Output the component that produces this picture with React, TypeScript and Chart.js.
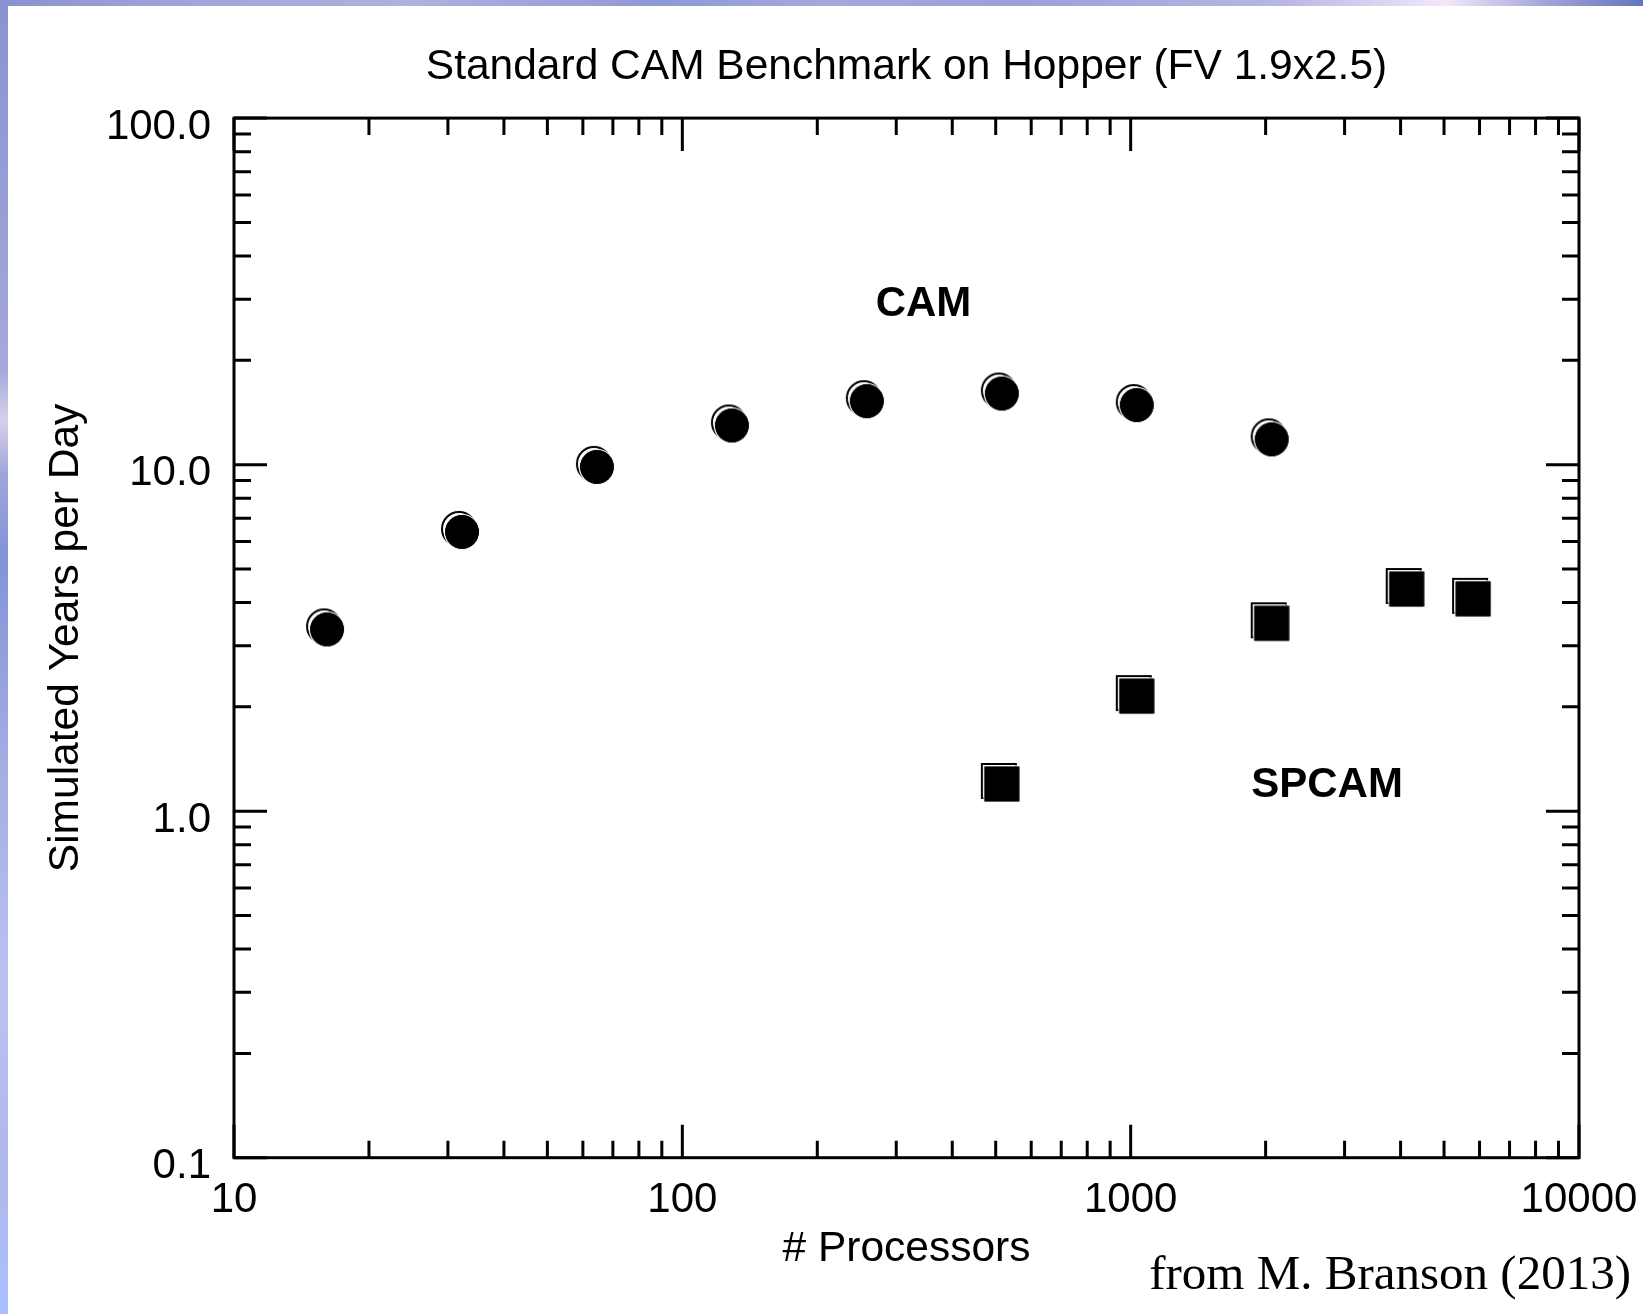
import React, { useEffect, useRef } from "react";
import { Chart, registerables } from "chart.js";

Chart.register(...registerables);

// ---------- data ----------
const chartTitle = "Standard CAM Benchmark on Hopper (FV 1.9x2.5)";
const xAxisTitle = "# Processors";
const yAxisTitle = "Simulated Years per Day";
const sourceNote = "from M. Branson (2013)";

const camProcessors = [16, 32, 64, 128, 256, 512, 1024, 2048];
const camYearsPerDay = [3.38, 6.46, 9.95, 13.1, 15.4, 16.2, 15.0, 11.95];

const spcamProcessors = [512, 1024, 2048, 4096, 5760];
const spcamYearsPerDay = [1.21, 2.17, 3.52, 4.42, 4.14];

const xTickValues = [10, 100, 1000, 10000];
const xTickLabels = ["10", "100", "1000", "10000"];
const yTickValues = [0.1, 1, 10, 100];
const yTickLabels = ["0.1", "1.0", "10.0", "100.0"];

const seriesLabels = ["CAM", "SPCAM"];
const seriesLabelX = [345, 2742];
const seriesLabelY = [29.7, 1.211];

// ---------- styling ----------
const W = 1643;
const H = 1314;
const SANS = "'Liberation Sans', Arial, Helvetica, sans-serif";
const SERIF = "'Liberation Serif', 'Times New Roman', Times, serif";

function makeCircleMarker(): HTMLCanvasElement {
  const r = 18;
  const off = 3;
  const pad = 2;
  const size = Math.ceil(2 * r + off + 2 * pad);
  const c = document.createElement("canvas");
  c.width = size;
  c.height = size;
  const g = c.getContext("2d")!;
  const ax = pad + r;
  const ay = pad + r;
  g.strokeStyle = "#000";
  g.lineWidth = 2;
  g.beginPath();
  g.arc(ax, ay, r - 1, 0, Math.PI * 2);
  g.stroke();
  g.beginPath();
  g.arc(ax + off, ay + off, r - 0.5, 0, Math.PI * 2);
  g.fillStyle = "#000";
  g.fill();
  g.strokeStyle = "#fff";
  g.lineWidth = 1.2;
  g.stroke();
  g.beginPath();
  g.arc(ax + off, ay + off, r - 1.2, 0, Math.PI * 2);
  g.fill();
  return c;
}

function makeSquareMarker(): HTMLCanvasElement {
  const s = 36;
  const off = 3;
  const pad = 2;
  const size = Math.ceil(s + off + 2 * pad);
  const c = document.createElement("canvas");
  c.width = size;
  c.height = size;
  const g = c.getContext("2d")!;
  g.strokeStyle = "#000";
  g.lineWidth = 2;
  g.strokeRect(pad + 1, pad + 1, s - 2, s - 2);
  g.fillStyle = "#000";
  g.fillRect(pad + off, pad + off, s, s);
  g.strokeStyle = "#fff";
  g.lineWidth = 1.2;
  g.strokeRect(pad + off, pad + off, s, s);
  g.fillRect(pad + off + 0.6, pad + off + 0.6, s - 1.2, s - 1.2);
  return c;
}

const framePlugin = {
  id: "slideFrame",
  beforeDraw(chart: any) {
    const ctx = chart.ctx as CanvasRenderingContext2D;
    ctx.save();
    ctx.fillStyle = "#ffffff";
    ctx.fillRect(0, 0, W, H);
    const gt = ctx.createLinearGradient(0, 0, W, 0);
    gt.addColorStop(0, "#8a92d0");
    gt.addColorStop(0.12, "#a0a6da");
    gt.addColorStop(0.25, "#b0b0e0");
    gt.addColorStop(0.4, "#8f98d6");
    gt.addColorStop(0.5, "#a2aadc");
    gt.addColorStop(0.62, "#9aa0da");
    gt.addColorStop(0.78, "#b8b6e4");
    gt.addColorStop(0.88, "#f2e8fa");
    gt.addColorStop(0.94, "#a4a4da");
    gt.addColorStop(1, "#6474bc");
    ctx.fillStyle = gt;
    ctx.fillRect(0, 0, W, 6);
    const gl = ctx.createLinearGradient(0, 0, 0, H);
    gl.addColorStop(0, "#8a92d0");
    gl.addColorStop(0.28, "#a4a8da");
    gl.addColorStop(0.32, "#d6d0ea");
    gl.addColorStop(0.36, "#a0a6da");
    gl.addColorStop(0.42, "#8294d6");
    gl.addColorStop(0.6, "#a6b0e4");
    gl.addColorStop(0.75, "#bcc2f0");
    gl.addColorStop(0.88, "#b0b8e8");
    gl.addColorStop(1, "#a8c0ff");
    ctx.fillStyle = gl;
    ctx.fillRect(0, 0, 8, H);
    ctx.restore();
  },
};

function minorValues(min: number, max: number): { v: number; major: boolean }[] {
  const out: { v: number; major: boolean }[] = [];
  const e0 = Math.round(Math.log10(min));
  const e1 = Math.round(Math.log10(max));
  for (let e = e0; e < e1; e++) {
    for (let m = 1; m <= 9; m++) out.push({ v: m * Math.pow(10, e), major: m === 1 });
  }
  out.push({ v: Math.pow(10, e1), major: true });
  return out;
}

const axesBoxPlugin = {
  id: "axesBox",
  beforeDatasetsDraw(chart: any) {
    const ctx = chart.ctx as CanvasRenderingContext2D;
    const a = chart.chartArea;
    const xs = chart.scales.x;
    const ys = chart.scales.y;
    const MAJ = 33;
    const MIN = 17;
    ctx.save();
    ctx.strokeStyle = "#000";
    ctx.lineWidth = 3;
    ctx.lineCap = "butt";
    ctx.beginPath();
    for (const t of minorValues(xs.min, xs.max)) {
      const px = xs.getPixelForValue(t.v);
      const len = t.major ? MAJ : MIN;
      ctx.moveTo(px, a.bottom);
      ctx.lineTo(px, a.bottom - len);
      ctx.moveTo(px, a.top);
      ctx.lineTo(px, a.top + len);
    }
    for (const t of minorValues(ys.min, ys.max)) {
      const py = ys.getPixelForValue(t.v);
      const len = t.major ? MAJ : MIN;
      ctx.moveTo(a.left, py);
      ctx.lineTo(a.left + len, py);
      ctx.moveTo(a.right, py);
      ctx.lineTo(a.right - len, py);
    }
    ctx.stroke();
    ctx.strokeRect(a.left, a.top, a.right - a.left, a.bottom - a.top);
    ctx.restore();
  },
};

const textPlugin = {
  id: "notes",
  afterDraw(chart: any) {
    const ctx = chart.ctx as CanvasRenderingContext2D;
    const xs = chart.scales.x;
    const ys = chart.scales.y;
    ctx.save();
    ctx.fillStyle = "#000";
    ctx.font = `bold 42px ${SANS}`;
    ctx.textAlign = "center";
    ctx.textBaseline = "alphabetic";
    seriesLabels.forEach((lab, i) => {
      const px = xs.getPixelForValue(seriesLabelX[i]);
      const py = ys.getPixelForValue(seriesLabelY[i]);
      ctx.fillText(lab, px, py + 15);
    });
    ctx.font = `49px ${SERIF}`;
    ctx.textAlign = "right";
    ctx.fillText(sourceNote, chart.chartArea.right + 52, H - 25);
    ctx.restore();
  },
};

export default function App() {
  const ref = useRef<HTMLCanvasElement | null>(null);

  useEffect(() => {
    const canvas = ref.current;
    if (!canvas) return;
    const circleImg = makeCircleMarker();
    const squareImg = makeSquareMarker();

    const chart = new Chart(canvas, {
      type: "scatter",
      data: {
        datasets: [
          {
            label: seriesLabels[0],
            data: camProcessors.map((x, i) => ({ x, y: camYearsPerDay[i] })),
            pointStyle: circleImg as any,
            pointRadius: 20,
            backgroundColor: "#000",
            borderColor: "#000",
          },
          {
            label: seriesLabels[1],
            data: spcamProcessors.map((x, i) => ({ x, y: spcamYearsPerDay[i] })),
            pointStyle: squareImg as any,
            pointRadius: 20,
            backgroundColor: "#000",
            borderColor: "#000",
          },
        ],
      },
      options: {
        animation: false,
        responsive: false,
        devicePixelRatio: 1,
        events: [],
        layout: { padding: { left: 0, right: 64, top: 0, bottom: 0 } },
        plugins: {
          legend: { display: false },
          tooltip: { enabled: false },
          title: {
            display: true,
            text: chartTitle,
            fullSize: false,
            color: "#000",
            font: { family: SANS, size: 42.5, weight: "normal" },
            padding: { top: 41.5, bottom: 25.6 },
          },
        },
        scales: {
          x: {
            type: "logarithmic",
            position: "bottom",
            min: 10,
            max: 10000,
            grid: { display: false, drawTicks: false },
            border: { display: false },
            afterBuildTicks: (axis: any) => {
              axis.ticks = xTickValues.map((v) => ({ value: v }));
            },
            afterFit: (scale: any) => {
              scale.height = H - 1157.7;
              scale.paddingLeft = 0;
              scale.paddingRight = 0;
            },
            ticks: {
              color: "#000",
              font: { family: SANS, size: 42 },
              padding: 18,
              maxRotation: 0,
              autoSkip: false,
              callback: (_v: any, i: number) => xTickLabels[i],
            },
            title: {
              display: true,
              text: xAxisTitle,
              color: "#000",
              font: { family: SANS, size: 42.5 },
              padding: { top: 0, bottom: 39 },
            },
          },
          y: {
            type: "logarithmic",
            position: "left",
            min: 0.1,
            max: 100,
            grid: { display: false, drawTicks: false },
            border: { display: false },
            afterBuildTicks: (axis: any) => {
              axis.ticks = yTickValues.map((v) => ({ value: v }));
            },
            afterFit: (scale: any) => {
              scale.width = 234;
              scale.paddingTop = 0;
              scale.paddingBottom = 0;
            },
            ticks: {
              color: "#000",
              font: { family: SANS, size: 42 },
              padding: 23,
              labelOffset: 9,
              autoSkip: false,
              callback: (_v: any, i: number) => yTickLabels[i],
            },
            title: {
              display: true,
              text: yAxisTitle,
              color: "#000",
              font: { family: SANS, size: 42.5 },
              padding: { top: 40.5, bottom: 0 },
            },
          },
        },
      },
      plugins: [framePlugin, axesBoxPlugin, textPlugin],
    } as any);

    return () => chart.destroy();
  }, []);

  return (
    <div style={{ position: "absolute", left: 0, top: 0, width: W, height: H }}>
      <canvas ref={ref} width={W} height={H} style={{ display: "block", width: W, height: H }} />
    </div>
  );
}
